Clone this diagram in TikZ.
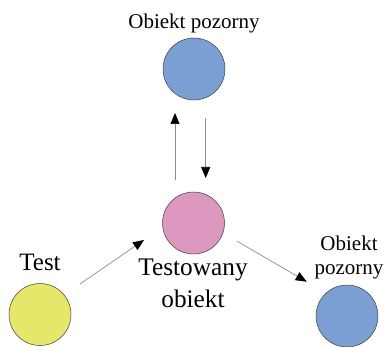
\documentclass[tikz,border=0pt]{standalone}
\usepackage{fontspec}
\setmainfont{Liberation Serif}
\usetikzlibrary{arrows.meta}
\definecolor{cblue}{RGB}{123,159,211}
\definecolor{cpink}{RGB}{221,152,192}
\definecolor{cyellow}{RGB}{229,230,106}
\definecolor{cline}{RGB}{140,140,140}
\tikzset{
  ball/.style={circle, minimum size=62pt, inner sep=0pt, draw=black!75, line width=0.5pt},
  lbl/.style={inner sep=0pt, anchor=base, align=center},
  conn/.style={draw=cline, line width=0.7pt, -{Triangle[length=11pt,width=9pt,black]}}
}
\begin{document}
\begin{tikzpicture}[x=1pt,y=1pt]
\useasboundingbox (0,0) rectangle (385,-347);
\node[ball, fill=cblue] (top) at (194,-69) {};
\node[ball, fill=cpink] (mid) at (193.5,-223) {};
\node[ball, fill=cyellow] (test) at (40,-314.5) {};
\node[ball, fill=cblue] (right) at (347,-316) {};
\node[lbl, font=\fontsize{21}{24}\selectfont] (ttop) at (194,-28.5) {Obiekt pozorny};
\node[lbl, font=\fontsize{25}{28}\selectfont] (ttest) at (40,-270.5) {Test};
\node[lbl, font=\fontsize{25.3}{32}\selectfont, anchor=north] (tmid) at (193,-258.5) {Testowany\\obiekt};
\node[lbl, font=\fontsize{21}{24}\selectfont, anchor=north] (tright) at (349,-235.5) {Obiekt\\pozorny};
\draw[conn] ([shift={(-18.5pt,43pt)}]mid.center) -- ([shift={(-19pt,-44pt)}]top.center);
\draw[conn] ([shift={(11.7pt,-49pt)}]top.center) -- ([shift={(12.2pt,45pt)}]mid.center);
\draw[conn] ([shift={(40pt,30.5pt)}]test.center) -- ([shift={(-49.5pt,-17pt)}]mid.center);
\draw[conn] ([shift={(43.2pt,-18pt)}]mid.center) -- ([shift={(-40.3pt,34.3pt)}]right.center);
\end{tikzpicture}
\end{document}
